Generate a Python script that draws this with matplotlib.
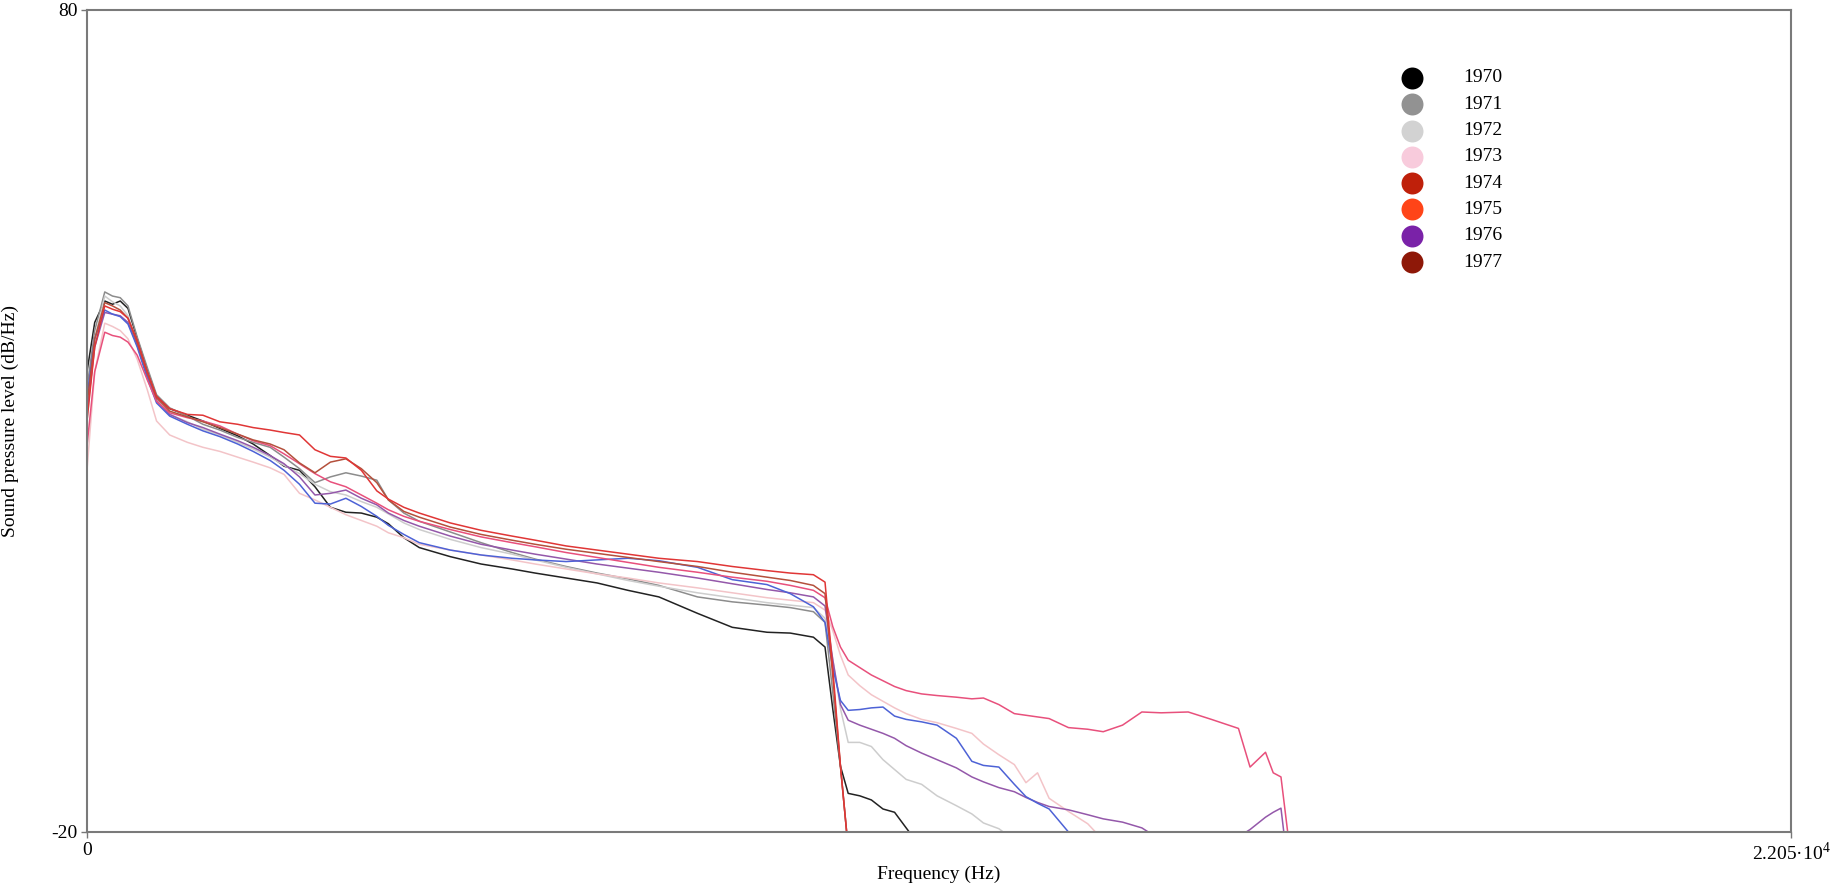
import matplotlib
matplotlib.use("Agg")
import matplotlib.pyplot as plt

plt.rcParams['font.family'] = ['Liberation Serif', 'DejaVu Serif']
plt.rcParams['mathtext.fontset'] = 'custom'
plt.rcParams['mathtext.rm'] = 'Liberation Serif'

# frequency grid (Hz) shared by all curves; each curve runs until it leaves the plot
freq_hz = [0, 100, 230, 330, 430, 530, 650, 780, 900, 1070,
           1300, 1500, 1720, 1950, 2150, 2370, 2550, 2750, 2950, 3150,
           3350, 3550, 3750, 3900, 4100, 4300, 4700, 5100, 5500, 5800,
           6200, 6600, 7000, 7400, 7900, 8350, 8800, 9100, 9400, 9550,
           9650, 9750, 9850, 10000, 10150, 10300, 10450, 10600, 10800, 11000,
           11250, 11450, 11600, 11800, 12000, 12150, 12300, 12450, 12700, 12950,
           13150, 13400, 13650, 13900, 14250, 14550, 14900, 15050, 15250, 15350,
           15450, 15550]

# sound pressure level (dB/Hz) per curve
spl_black = [36, 42, 44.6, 44.2, 44.6, 43.7, 40.0, 36.2, 33.0, 31.5,
             30.7, 30.0, 29.1, 28.2, 27.2, 25.8, 24.5, 24.0, 22.0, 19.5,
             18.9, 18.8, 18.3, 17.5, 15.8, 14.6, 13.5, 12.6, 12.0, 11.5,
             10.9, 10.3, 9.4, 8.6, 6.6, 4.9, 4.3, 4.2, 3.7, 2.5,
             -5.0, -12.0, -15.3, -15.6, -16.1, -17.2, -17.6, -19.5, -22.0]
spl_gray = [34, 41, 45.7, 45.2, 45.0, 44.0, 40.2, 36.5, 33.2, 31.6,
            30.6, 29.6, 28.9, 28.0, 27.4, 26.8, 25.6, 24.2, 22.5, 23.2,
            23.7, 23.3, 22.8, 20.4, 18.8, 17.8, 16.5, 15.2, 14.0, 13.2,
            12.3, 11.5, 10.8, 10.0, 8.6, 8.0, 7.6, 7.3, 6.8, 5.5,
            -3.0, -12.0, -22.0]
spl_lightgray = [30, 40, 45.2, 44.5, 44.0, 42.8, 39.5, 35.8, 32.4, 30.8,
                 29.9, 29.0, 28.3, 27.4, 26.6, 25.6, 24.6, 23.6, 22.3, 21.4,
                 21.0, 20.2, 19.5, 18.7, 17.6, 16.8, 15.6, 14.6, 13.8, 13.1,
                 12.2, 11.4, 10.6, 9.9, 9.1, 8.5, 7.9, 7.6, 7.3, 6.0,
                 1.0, -5.0, -9.1, -9.1, -9.6, -11.2, -12.4, -13.6, -14.2, -15.6,
                 -16.8, -17.8, -18.9, -19.6, -21.0]
spl_lightpink = [24, 36, 41.9, 41.5, 41.0, 40.0, 37.5, 33.8, 30.0, 28.3,
                 27.4, 26.8, 26.3, 25.6, 25.0, 24.3, 23.5, 21.2, 20.4, 19.5,
                 18.6, 17.9, 17.2, 16.4, 15.8, 15.0, 14.3, 13.7, 13.1, 12.6,
                 12.0, 11.4, 10.9, 10.3, 9.7, 9.1, 8.5, 8.2, 7.9, 7.0,
                 4.5, 1.5, -0.9, -2.2, -3.3, -4.1, -4.9, -5.6, -6.3, -6.7,
                 -7.4, -8.0, -9.3, -10.6, -11.8, -14.0, -12.8, -15.9, -17.5, -19.0,
                 -21.0]
spl_purple = [31, 39, 43.2, 43.0, 42.8, 42.0, 39.2, 35.5, 32.5, 30.8,
              29.8, 29.2, 28.4, 27.6, 26.8, 25.8, 24.8, 23.2, 21.0, 21.2,
              21.6, 20.6, 19.8, 18.8, 17.9, 17.2, 16.0, 15.0, 14.3, 13.8,
              13.2, 12.6, 12.1, 11.6, 10.9, 10.2, 9.5, 9.1, 8.6, 7.5,
              1.0, -4.5, -6.4, -7.0, -7.5, -8.0, -8.6, -9.5, -10.4, -11.2,
              -12.2, -13.3, -13.9, -14.6, -15.1, -15.8, -16.4, -16.9, -17.3, -17.9,
              -18.4, -18.8, -19.5, -21.0, -22.5, -21.5, -20.6, -19.7, -18.2, -17.6,
              -17.1, -25.0]
spl_blue = [33, 40, 43.5, 43.0, 42.7, 41.8, 39.0, 35.2, 32.2, 30.6,
            29.6, 28.8, 28.1, 27.2, 26.3, 25.2, 24.0, 22.3, 20.0, 19.9,
            20.6, 19.6, 18.4, 17.3, 16.2, 15.2, 14.3, 13.7, 13.3, 13.1,
            12.9, 13.1, 13.3, 13.0, 12.2, 10.7, 10.1, 9.0, 7.4, 5.5,
            0.0, -4.0, -5.2, -5.1, -4.9, -4.8, -5.9, -6.3, -6.6, -7.0,
            -8.6, -11.4, -11.9, -12.1, -14.2, -15.7, -16.5, -17.2, -20.0, -23.0]
spl_hotpink = [27, 36, 40.8, 40.4, 40.2, 39.6, 38.0, 35.0, 32.4, 31.0,
               30.4, 30.0, 29.4, 28.4, 27.6, 27.0, 26.0, 24.8, 23.6, 22.6,
               22.0, 21.0, 20.0, 19.2, 18.4, 17.8, 16.8, 15.9, 15.2, 14.7,
               14.0, 13.4, 12.8, 12.2, 11.6, 11.0, 10.5, 10.0, 9.4, 8.5,
               5.0, 2.5, 0.9, 0.0, -0.9, -1.6, -2.3, -2.8, -3.2, -3.4,
               -3.6, -3.8, -3.7, -4.5, -5.6, -5.8, -6.0, -6.2, -7.3, -7.5,
               -7.8, -7.0, -5.4, -5.5, -5.4, -6.3, -7.4, -12.1, -10.3, -12.8,
               -13.3, -21.0]
spl_darkred = [32, 40, 44.4, 44.0, 43.5, 42.5, 39.5, 35.8, 32.8, 31.2,
               30.5, 29.9, 29.2, 28.4, 27.7, 27.2, 26.5, 24.9, 23.7, 25.0,
               25.4, 24.2, 22.5, 20.4, 19.0, 18.3, 17.1, 16.2, 15.5, 15.0,
               14.4, 13.9, 13.4, 12.9, 12.3, 11.6, 11.0, 10.6, 10.0, 9.0,
               -1.0, -12.0, -22.0]
spl_red = [30, 39, 44.0, 43.6, 43.3, 42.5, 39.8, 36.0, 33.0, 31.5,
           30.8, 30.7, 29.9, 29.6, 29.2, 28.9, 28.6, 28.3, 26.5, 25.7,
           25.5, 24.0, 21.5, 20.5, 19.5, 18.8, 17.6, 16.7, 16.0, 15.5,
           14.8, 14.3, 13.8, 13.3, 12.9, 12.3, 11.8, 11.5, 11.3, 10.4,
           0.0, -12.0, -22.0]

curves = [spl_black, spl_gray, spl_lightgray, spl_lightpink, spl_purple,
          spl_blue, spl_hotpink, spl_darkred, spl_red]
curve_colors = ['#222222', '#8c8c8c', '#cdcdcd', '#f3c4c8', '#9458aa',
                '#4d62d6', '#e8507c', '#b4503c', '#e03636']

years = ['1970', '1971', '1972', '1973', '1974', '1975', '1976', '1977']
year_colors = ['#000000', '#929292', '#d2d2d2', '#f8cbdc',
               '#bf200a', '#ff4418', '#7a22a8', '#8e1808']

fig = plt.figure(figsize=(18.36, 8.90), dpi=100)
ax = fig.add_axes([87 / 1836, 58 / 890, 1704 / 1836, 822 / 890])

for spl, col in zip(curves, curve_colors):
    ax.plot(freq_hz[:len(spl)], spl, color=col, lw=1.1)

ax.set_xlim(0, 22050)
ax.set_ylim(-20, 80)
ax.set_xticks([0, 22050])
ax.set_xticklabels(['0', '2.205·10$^{4}$'])
ax.set_yticks([-20, 80])
ax.set_yticklabels(['-20', '80'])
ax.tick_params(length=4, width=1, color='#777777', labelsize=14, pad=3)
for sp in ax.spines.values():
    sp.set_color('#7a7a7a')
    sp.set_linewidth(1.5)

ax.set_xlabel('Frequency (Hz)', fontsize=14, va='center')
ax.xaxis.set_label_coords(0.5, -0.052)
ax.set_ylabel('Sound pressure level (dB/Hz)', fontsize=14, va='center')
ax.yaxis.set_label_coords(-0.045, 0.5)

# legend: colored dots with year labels
for i, (yr, col) in enumerate(zip(years, year_colors)):
    yy = 0.9173 - i * 0.032
    ax.scatter([0.7776], [yy], s=250, color=col, transform=ax.transAxes,
               clip_on=False, zorder=5, linewidths=0)
    ax.text(0.8075, yy, yr, transform=ax.transAxes, fontsize=14,
            ha='left', va='center')

fig.savefig('out.png', dpi=100)
